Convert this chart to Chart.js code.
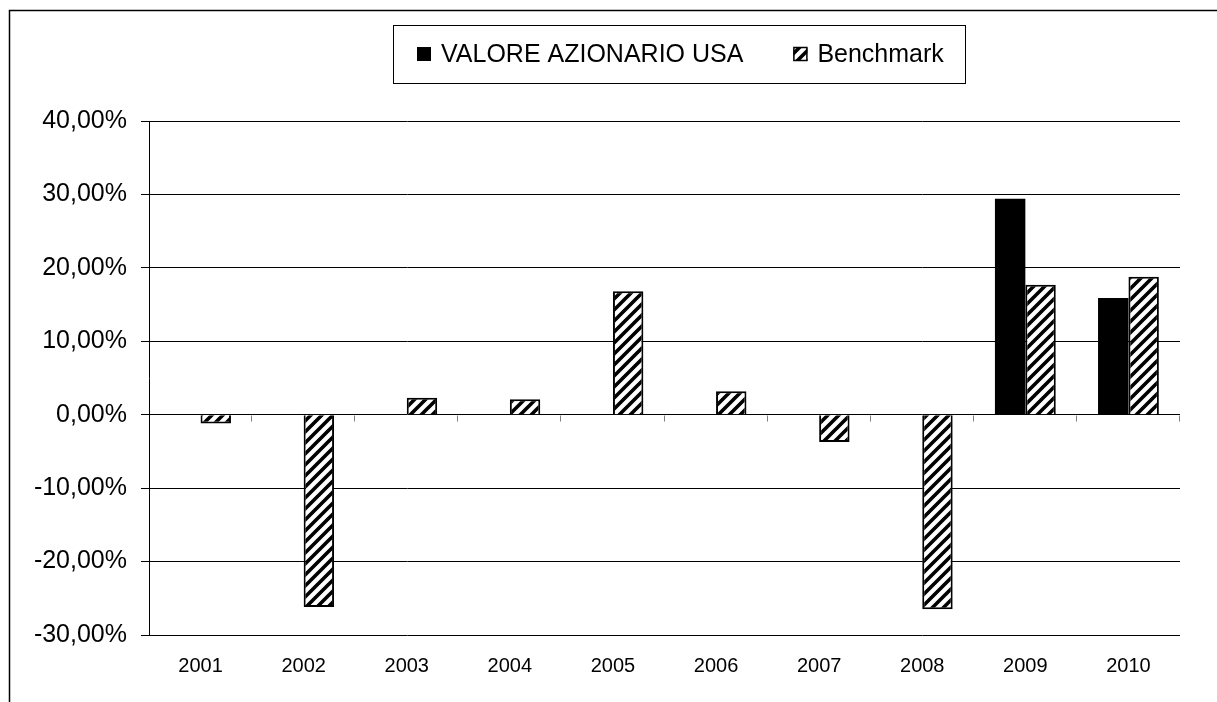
<!DOCTYPE html>
<html>
<head>
<meta charset="utf-8">
<script src="https://cdn.jsdelivr.net/npm/chart.js@4/dist/chart.umd.min.js"></script>
<style>
  html, body { margin: 0; padding: 0; background: #fff; }
</style>
</head>
<body>
<canvas id="myChart" width="1217" height="702"></canvas>
<script>
// data (percent)
const years = ['2001', '2002', '2003', '2004', '2005', '2006', '2007', '2008', '2009', '2010'];
const usaValues = [null, null, null, null, null, null, null, null, 29.4, 15.9];
const benchValues = [-1.2, -26.2, 2.3, 2.1, 16.8, 3.2, -3.7, -26.5, 17.7, 18.8];
const seriesNames = ['VALORE AZIONARIO USA', 'Benchmark'];
const yMin = -30, yMax = 40, yStep = 10;

const FONT = "'Liberation Sans', Arial, sans-serif";
var ctx = document.getElementById('myChart').getContext('2d');

// diagonal "/" hatch
function makeHatch() {
  const s = 11;
  const c = document.createElement('canvas');
  c.width = s; c.height = s;
  const g = c.getContext('2d');
  g.fillStyle = '#fff';
  g.fillRect(0, 0, s, s);
  g.strokeStyle = '#000';
  g.lineWidth = 3.6;
  g.beginPath();
  g.moveTo(-s / 2, s / 2); g.lineTo(s / 2, -s / 2);
  g.moveTo(0, s); g.lineTo(s, 0);
  g.moveTo(s / 2, s * 1.5); g.lineTo(s * 1.5, s / 2);
  g.stroke();
  return ctx.createPattern(c, 'repeat');
}
const hatch = makeHatch();

// outer frame (top + left edges visible)
const framePlugin = {
  id: 'frame',
  beforeDraw(chart) {
    const c = chart.ctx;
    c.save();
    c.fillStyle = '#fff';
    c.fillRect(0, 0, chart.width, chart.height);
    c.strokeStyle = '#000';
    c.lineWidth = 1.5;
    c.beginPath();
    c.moveTo(9.5, chart.height + 5);
    c.lineTo(9.5, 10.5);
    c.lineTo(chart.width + 5, 10.5);
    c.stroke();
    c.restore();
  }
};

// small tick marks on the zero line at category boundaries
const zeroTicks = {
  id: 'zeroTicks',
  afterDatasetsDraw(chart) {
    const x = chart.scales.x, y = chart.scales.y;
    const y0 = Math.round(y.getPixelForValue(0)) + 0.5;
    const n = chart.data.labels.length;
    const c = chart.ctx;
    c.save();
    c.strokeStyle = '#808080';
    c.lineWidth = 1;
    c.beginPath();
    for (let i = 1; i <= n; i++) {
      const px = Math.round(x.left + i * (x.right - x.left) / n) - 0.5;
      c.moveTo(px, y0);
      c.lineTo(px, y0 + 6);
    }
    c.stroke();
    c.restore();
  }
};

// boxed legend like the original
const legendBox = {
  id: 'legendBox',
  afterDraw(chart) {
    const c = chart.ctx;
    c.save();
    c.font = '25px ' + FONT;
    const box = 14, gap = 10, itemGap = 50, padL = 24, padR = 21;
    const sets = chart.data.datasets;
    const widths = sets.map(ds => box + gap + c.measureText(ds.label).width);
    const inner = widths.reduce((a, b) => a + b, 0) + itemGap * (sets.length - 1);
    const w = Math.round(inner + padL + padR), h = 58;
    const cx = 679, top = 25;
    const left = Math.round(cx - w / 2);
    c.fillStyle = '#fff';
    c.fillRect(left, top, w, h);
    c.strokeStyle = '#000';
    c.lineWidth = 1;
    c.strokeRect(left + 0.5, top + 0.5, w, h);
    let x = left + padL;
    const midY = top + h / 2;
    sets.forEach((ds, i) => {
      c.fillStyle = ds.backgroundColor;
      c.fillRect(x, midY - 7, box, box);
      if (ds.borderWidth) {
        c.strokeStyle = '#000';
        c.lineWidth = 1.5;
        c.strokeRect(x + 0.5, midY - 6.5, box - 1, box - 1);
      }
      c.fillStyle = '#000';
      c.textBaseline = 'middle';
      c.fillText(ds.label, x + box + gap, midY + 1);
      x += widths[i] + itemGap;
    });
    c.restore();
  }
};

var myChart = new Chart(ctx, {
  type: 'bar',
  data: {
    labels: years,
    datasets: [{
      label: seriesNames[0],
      data: usaValues,
      backgroundColor: '#000',
      borderWidth: 0
    }, {
      label: seriesNames[1],
      data: benchValues,
      backgroundColor: hatch,
      borderColor: '#000',
      borderWidth: 2
    }]
  },
  options: {
    responsive: false,
    animation: false,
    devicePixelRatio: 1,
    layout: { padding: { top: 121, right: 37, bottom: 0, left: 0 } },
    datasets: { bar: { categoryPercentage: 0.59, barPercentage: 1 } },
    plugins: {
      legend: { display: false },
      tooltip: { enabled: false }
    },
    scales: {
      x: {
        grid: { display: false },
        border: { display: false },
        ticks: { color: '#000', font: { family: FONT, size: 20 }, padding: 11, maxRotation: 0 },
        afterFit(scale) { scale.height = 67; }
      },
      y: {
        min: yMin,
        max: yMax,
        grid: { color: '#000', lineWidth: 1, tickLength: 8, tickColor: '#000' },
        border: { color: '#000', width: 1 },
        ticks: {
          stepSize: yStep,
          color: '#000',
          padding: 14,
          font: { family: FONT, size: 25 },
          callback: v => v.toFixed(2).replace('.', ',') + '%'
        },
        afterFit(scale) { scale.width = 149; }
      }
    }
  },
  plugins: [framePlugin, zeroTicks, legendBox]
});
</script>
</body>
</html>
